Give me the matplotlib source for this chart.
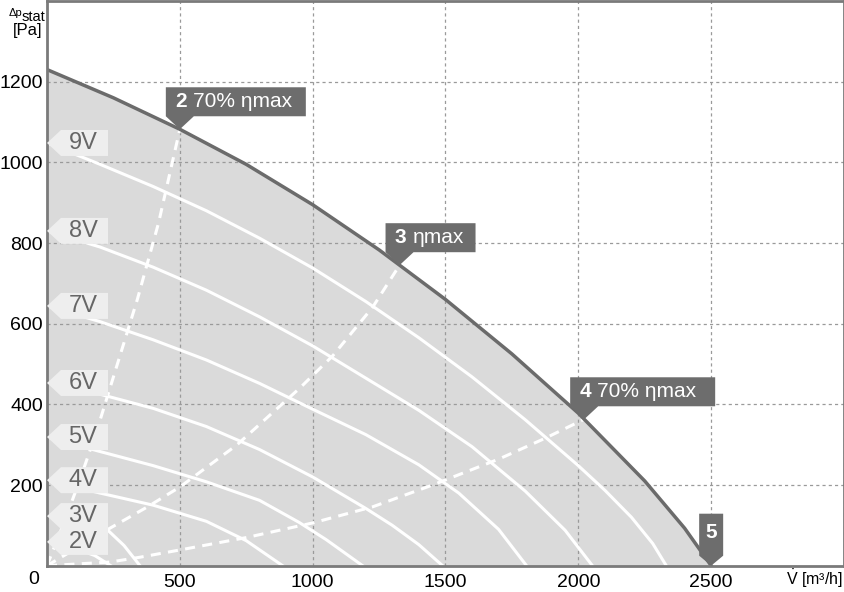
import matplotlib.pyplot as plt
from matplotlib.patches import Polygon
from matplotlib.transforms import IdentityTransform

plt.rcParams['font.family'] = ['Liberation Sans', 'DejaVu Sans']
plt.rcParams['mathtext.fontset'] = 'custom'
plt.rcParams['mathtext.rm'] = 'Liberation Sans'

# max curve (outer envelope)
max_q = [0, 250, 500, 750, 1000, 1250, 1500, 1750, 2000, 2250, 2400, 2500]
max_p = [1230, 1160, 1082, 995, 895, 783, 660, 525, 378, 210, 93, 0]

# speed curves per control voltage
volt_labels = ['9V', '8V', '7V', '6V', '5V', '4V', '3V', '2V']
volt_q = [
    [0, 200, 400, 600, 800, 1000, 1200, 1400, 1600, 1800, 2000, 2100, 2200, 2280, 2331],
    [0, 200, 400, 600, 800, 1000, 1200, 1400, 1600, 1800, 1950, 2053],
    [0, 200, 400, 600, 800, 1000, 1200, 1400, 1550, 1700, 1805],
    [0, 200, 400, 600, 800, 1000, 1200, 1300, 1400, 1489],
    [0, 200, 400, 600, 800, 950, 1050, 1188],
    [0, 200, 400, 600, 750, 887],
    [0, 150, 229, 290, 350],
    [0, 100, 180, 240],
]
volt_p = [
    [1048, 995, 940, 880, 812, 738, 655, 565, 468, 362, 248, 187, 120, 55, 0],
    [830, 790, 740, 683, 617, 545, 465, 385, 295, 185, 88, 0],
    [644, 605, 560, 510, 452, 388, 325, 250, 180, 90, 0],
    [453, 425, 390, 345, 288, 220, 142, 100, 52, 0],
    [319, 283, 248, 208, 162, 107, 65, 0],
    [212, 180, 150, 110, 62, 0],
    [123, 105, 88, 50, 0],
    [59, 45, 25, 0],
]

# efficiency lines (dashed)
eta2_q = [0, 60, 125, 190, 265, 340, 420, 500]
eta2_p = [0, 100, 215, 340, 500, 660, 850, 1082]
eta3_q = [0, 237, 376, 500, 714, 951, 1075, 1226, 1327]
eta3_p = [0, 93, 145, 195, 299, 440, 520, 641, 745]
eta4_q = [0, 237, 350, 500, 752, 1000, 1226, 1451, 1703, 1872, 2022]
eta4_p = [0, 9, 21, 39, 70, 106, 146, 200, 265, 315, 363]

# operating point markers: (q, p, bold number, text, box width px)
mark_q = [500, 1327, 2022, 2500]
mark_p = [1082, 745, 363, 0]
mark_num = ['2', '3', '4', '5']
mark_txt = ['70% ηmax', 'ηmax', '70% ηmax', '']
mark_w = [140, 90, 145, 24]

fig = plt.figure(figsize=(8.45, 5.92), dpi=100)
ax = fig.add_axes([47 / 845, 26.3 / 592, 797 / 845, 564.7 / 592])
ax.set_xlim(0, 3000)
ax.set_ylim(0, 1400)

ax.fill_between(max_q, max_p, 0, color='#dadada', lw=0, zorder=1)
ax.plot(max_q, max_p, color='#6b6b6b', lw=2.5, zorder=4)

for q, p in zip(volt_q, volt_p):
    ax.plot(q, p, color='white', lw=2.2, zorder=3)

for q, p in [(eta2_q, eta2_p), (eta3_q, eta3_p), (eta4_q, eta4_p)]:
    ax.plot(q, p, color='white', lw=2.2, ls=(0, (3.3, 2.4)), zorder=3)

ax.set_xticks([500, 1000, 1500, 2000, 2500, 3000])
ax.set_yticks([200, 400, 600, 800, 1000, 1200])
ax.set_xticklabels(['500', '1000', '1500', '2000', '2500', ''])
ax.tick_params(length=0, labelsize=14)
ax.tick_params(axis='y', pad=3)
ax.tick_params(axis='x', pad=6)
ax.grid(True, color='#9a9a9a', lw=0.9, ls=(0, (2.5, 2.5)), zorder=2)
ax.set_axisbelow(False)
for s in ax.spines.values():
    s.set_color('#7a7a7a')
    s.set_linewidth(2)
    s.set_zorder(6)

fig.canvas.draw()
ident = IdentityTransform()

# voltage labels at the left axis
for lab, p in zip(volt_labels, volt_p):
    tx, ty = ax.transData.transform((0, p[0]))
    verts = [(tx, ty), (tx + 14, ty + 13), (tx + 61, ty + 13),
             (tx + 61, ty - 13), (tx + 14, ty - 13)]
    ax.add_patch(Polygon(verts, closed=True, transform=ident,
                         facecolor='#eeeeee', edgecolor='none', zorder=7, clip_on=False))
    ax.text(tx + 36, ty, lab, transform=ident, ha='center', va='center',
            fontsize=17, color='#666666', zorder=8)

# markers on the max curve
for q, p, num, txt, w in zip(mark_q, mark_p, mark_num, mark_txt, mark_w):
    tx, ty = ax.transData.transform((q, p))
    if txt:
        left = tx - 14
        verts = [(left, ty + 13), (tx, ty), (left + 28, ty + 13),
                 (left + w, ty + 13), (left + w, ty + 42), (left, ty + 42)]
        ax.add_patch(Polygon(verts, closed=True, transform=ident,
                             facecolor='#6d6d6d', edgecolor='none', zorder=7, clip_on=False))
        ax.text(left + 9, ty + 27.5, num, transform=ident, ha='left', va='center',
                fontsize=15, fontweight='bold', color='white', zorder=8)
        ax.text(left + 27, ty + 27.5, txt, transform=ident, ha='left', va='center',
                fontsize=15, color='white', zorder=8)
    else:
        verts = [(tx - w / 2, ty + 10), (tx, ty), (tx + w / 2, ty + 10),
                 (tx + w / 2, ty + 52), (tx - w / 2, ty + 52)]
        ax.add_patch(Polygon(verts, closed=True, transform=ident,
                             facecolor='#6d6d6d', edgecolor='none', zorder=7, clip_on=False))
        ax.text(tx, ty + 33, num, transform=ident, ha='center', va='center',
                fontsize=15, fontweight='bold', color='white', zorder=8)

# axis annotations
fig.text(34 / 845, 1 - 580 / 592, '0', ha='center', va='center', fontsize=14)
fig.text(22 / 845, 1 - 13 / 592, 'Δp', ha='right', va='center', fontsize=8)
fig.text(22 / 845, 1 - 17 / 592, 'stat', ha='left', va='center', fontsize=10.5)
fig.text(42 / 845, 1 - 31 / 592, '[Pa]', ha='right', va='center', fontsize=12)
fig.text(786 / 845, 1 - 579 / 592, r'$\dot{\mathrm{V}}$ [m³/h]', ha='left', va='center',
         fontsize=11.5)

fig.savefig('out.png', dpi=100)
